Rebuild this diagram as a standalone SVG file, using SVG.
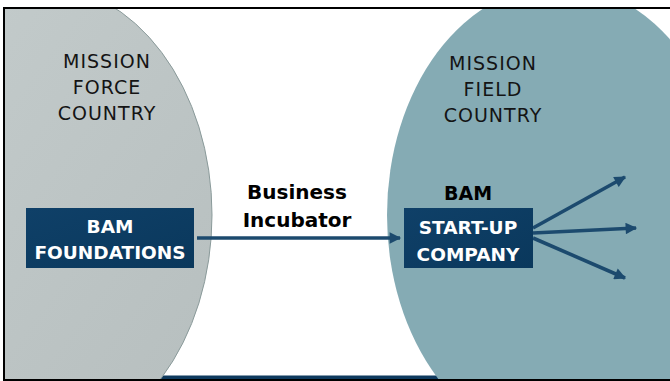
<svg xmlns="http://www.w3.org/2000/svg" width="670" height="381" viewBox="0 0 670 381">
<style>
.region{font-family:"DejaVu Sans","Liberation Sans",sans-serif;font-size:19px;fill:#141414;text-anchor:middle;font-weight:normal;letter-spacing:1px}
.lbl{font-family:"DejaVu Sans","Liberation Sans",sans-serif;font-weight:bold;text-anchor:middle}
.box{fill:url(#boxg)}
.boxt{fill:#ffffff;font-size:18.5px}
.conn{stroke:#1c4a6e;stroke-width:3.6;fill:none;marker-end:url(#ah)}
</style>
<defs>
<linearGradient id="lg" x1="0" y1="0" x2="1" y2="1">
<stop offset="0" stop-color="#c5cdcd"/>
<stop offset="1" stop-color="#b6bebe"/>
</linearGradient>
<linearGradient id="boxg" x1="0" y1="0" x2="1" y2="1">
<stop offset="0" stop-color="#0f4068"/>
<stop offset="1" stop-color="#0a385c"/>
</linearGradient>
<marker id="ah" viewBox="0 0 10 10" refX="9" refY="5" markerWidth="3.6" markerHeight="3.2" orient="auto" markerUnits="strokeWidth">
<path d="M0,0 L10,5 L0,10 Z" fill="#1c4a6e"/>
</marker>
<clipPath id="frame"><rect x="4" y="9" width="670" height="371"/></clipPath>
</defs>
<rect x="0" y="0" width="670" height="381" fill="#ffffff"/>
<g clip-path="url(#frame)">
<rect x="150" y="375.5" width="300" height="4" fill="#0f3a5e"/>
<g id="mission-force">
<ellipse cx="40" cy="215" rx="172" ry="230" fill="url(#lg)" stroke="#8a9a9a" stroke-width="1"/>
<text class="region" x="107" y="68">MISSION</text>
<text class="region" x="107" y="94">FORCE</text>
<text class="region" x="107" y="120">COUNTRY</text>
</g>
<g id="mission-field">
<ellipse cx="559" cy="215" rx="172" ry="230" fill="#85abb4"/>
<text class="region" x="493" y="70">MISSION</text>
<text class="region" x="493" y="96">FIELD</text>
<text class="region" x="493" y="122">COUNTRY</text>
</g>
</g>
<rect x="4" y="8" width="670" height="372" fill="none" stroke="#000000" stroke-width="2"/>
<g id="connectors">
<line class="conn" x1="197" y1="238" x2="400" y2="238"/>
<line class="conn" x1="533" y1="228" x2="625" y2="177"/>
<line class="conn" x1="533" y1="233" x2="636" y2="228"/>
<line class="conn" x1="533" y1="238" x2="625" y2="278"/>
</g>
<g id="business-incubator">
<text class="lbl" x="297" y="199" font-size="20" fill="#000000">Business</text>
<text class="lbl" x="297" y="227" font-size="20" fill="#000000">Incubator</text>
</g>
<g id="bam-foundations">
<rect class="box" x="26" y="208" width="168" height="60"/>
<text class="lbl boxt" x="110" y="233">BAM</text>
<text class="lbl boxt" x="110" y="259">FOUNDATIONS</text>
</g>
<g id="bam-startup">
<text class="lbl" x="468" y="200" font-size="19" fill="#000000">BAM</text>
<rect class="box" x="404" y="208" width="129" height="60"/>
<text class="lbl boxt" x="468" y="234">START-UP</text>
<text class="lbl boxt" x="468" y="261">COMPANY</text>
</g>
</svg>
